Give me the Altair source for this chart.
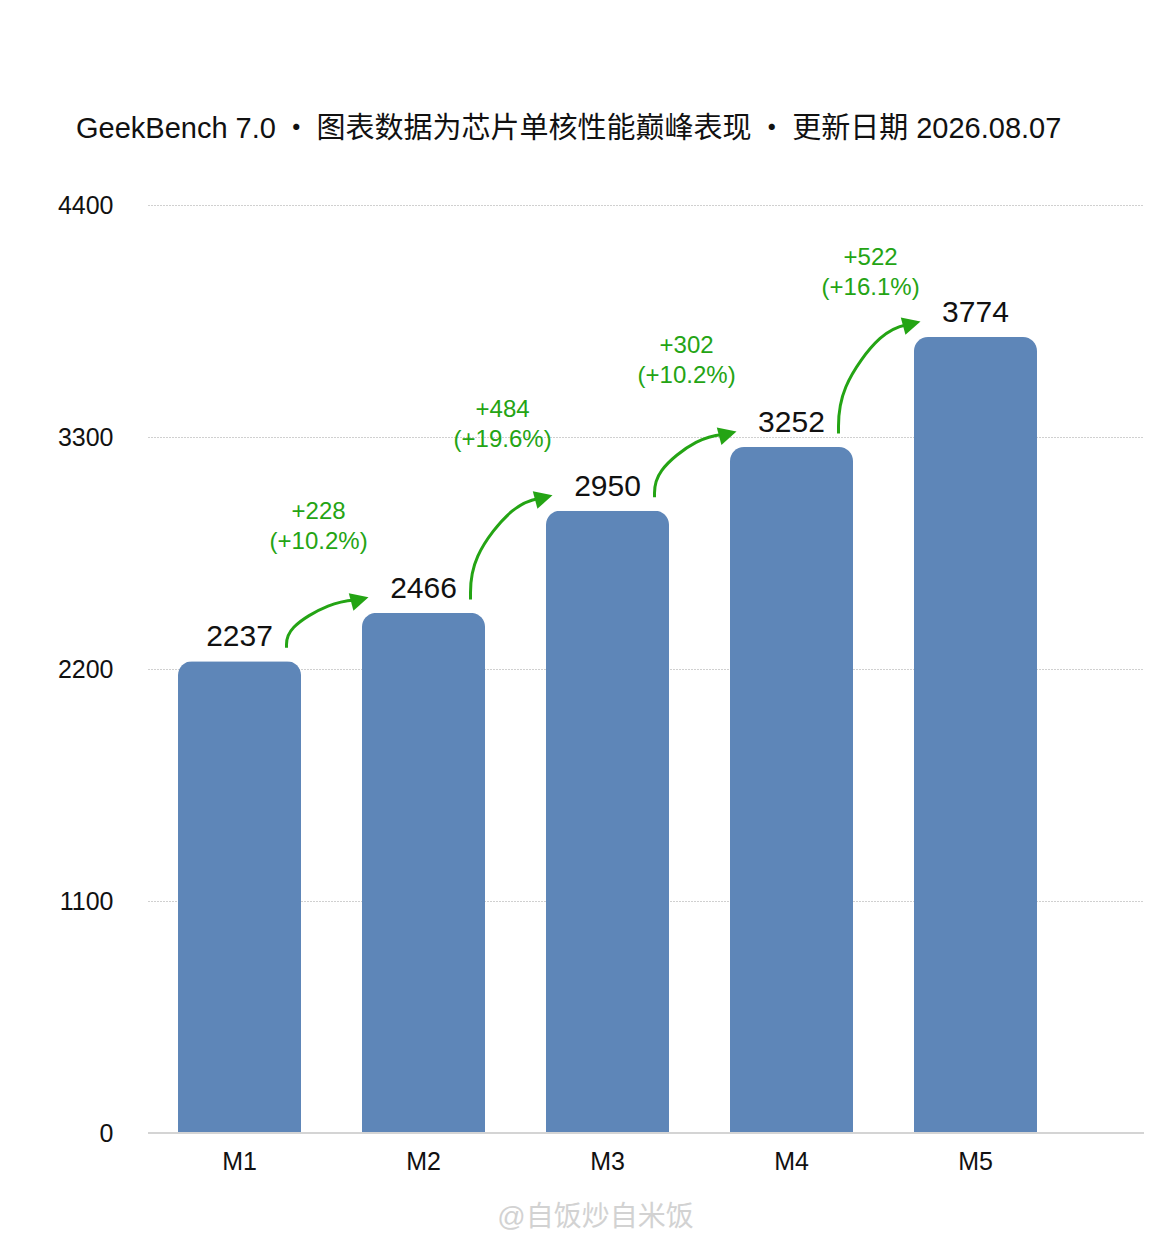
import altair as alt
import pandas as pd

# ---- data ----
chips = ["M1", "M2", "M3", "M4", "M5"]
scores = [2237, 2466, 2950, 3252, 3774]
gains = ["+228", "+484", "+302", "+522"]
gain_pcts = ["(+10.2%)", "(+19.6%)", "(+10.2%)", "(+16.1%)"]
y_ticks = [0, 1100, 2200, 3300, 4400]
title_text = ("GeekBench 7.0\u2009・\u2009图表数据为芯片单核性能巅峰表现"
              "\u2009・\u2009更新日期 2026.08.07")
watermark = "@自饭炒自米饭"

# ---- styling / layout ----
BAR = "#5E86B8"
GREEN = "#24A414"
FONT = "Liberation Sans, Noto Sans CJK SC, sans-serif"
W, H = 996, 928
STEP = 184.0                     # px per category
PX_PER_UNIT = H / 4400.0
X_LO = -91.5 / STEP
X_HI = (W - 91.5) / STEP


def px_x(p):
    return p / STEP


def px_y(p):
    return p / PX_PER_UNIT


bars_df = pd.DataFrame({"chip": chips, "score": scores})

# arrow geometry derived from the scores (category index units on x)
arrow_rows, head_rows, label_rows = [], [], []
for i in range(len(chips) - 1):
    x0, y0 = i + px_x(47), scores[i] + px_y(13.5)
    x3, y3 = i + 1 - px_x(63.7), scores[i + 1] + px_y(13.2)
    dx, dy = x3 - x0, y3 - y0
    ctrl = [(x0, y0), (x0, y0 + 0.4 * dy), (x0 + 0.6 * dx, y3 - 0.05 * dy), (x3, y3)]
    for k, (x, y) in enumerate(ctrl):
        arrow_rows.append({"arrow": i, "k": k, "x": x, "y": y})
    head_rows.append({"x": x3, "y": y3})
    label_rows.append({"x": i + 0.43,
                       "y": min(scores[i + 1] + 480, 4400 - 250),
                       "txt": [gains[i], gain_pcts[i]]})
arrow_df = pd.DataFrame(arrow_rows)
head_df = pd.DataFrame(head_rows)
label_df = pd.DataFrame(label_rows)

y_axis = alt.Axis(values=y_ticks, format="d", title=None, domain=False,
                  ticks=False, labelFontSize=25, labelFont=FONT,
                  labelColor="#111", labelPadding=35, gridColor="#a0a0a0",
                  gridDash=[1, 2], gridWidth=1)
y_scale = alt.Scale(domain=[0, 4400], nice=False)

x_band = alt.X("chip:N", sort=chips,
               scale=alt.Scale(domain=chips, paddingInner=0.3315,
                               paddingOuter=0.3723, align=0.219),
               axis=alt.Axis(title=watermark, labelAngle=0, ticks=False,
                             domain=False, labelFontSize=25, labelFont=FONT,
                             labelColor="#111", labelPadding=16,
                             titleFont=FONT, titleFontSize=28,
                             titleFontWeight="normal", titleColor="#d2d2d2",
                             titlePadding=29, titleX=447, titleAlign="center"))

bars = alt.Chart(bars_df).mark_bar(
    color=BAR, cornerRadiusTopLeft=14, cornerRadiusTopRight=14
).encode(x=x_band, y=alt.Y("score:Q", scale=y_scale, axis=y_axis))

values = alt.Chart(bars_df).mark_text(
    baseline="alphabetic", dy=-15, fontSize=30, font=FONT, color="#111"
).encode(x=x_band, y=alt.Y("score:Q", scale=y_scale, axis=y_axis),
         text="score:Q")

baseline = alt.Chart(bars_df).mark_rule(color="#d4d4d4", strokeWidth=2).encode(
    y=alt.datum(0, scale=y_scale)
)

xq = alt.Scale(domain=[X_LO, X_HI], nice=False, zero=False)

arrows = alt.Chart(arrow_df).mark_line(
    interpolate="basis", color=GREEN, strokeWidth=3
).encode(
    x=alt.X("x:Q", scale=xq, axis=None),
    y=alt.Y("y:Q", scale=y_scale, axis=y_axis),
    detail="arrow:N",
    order="k:Q",
)

heads = alt.Chart(head_df).mark_point(
    shape="M1,0L-1,-1L-1,1Z", filled=True, size=324, angle=345,
    color=GREEN, opacity=1, strokeWidth=0
).encode(
    x=alt.X("x:Q", scale=xq, axis=None),
    y=alt.Y("y:Q", scale=y_scale, axis=y_axis),
)

gain_text = alt.Chart(label_df).mark_text(
    fontSize=24, font=FONT, color=GREEN, baseline="middle", lineHeight=30
).encode(
    x=alt.X("x:Q", scale=xq, axis=None),
    y=alt.Y("y:Q", scale=y_scale, axis=y_axis),
    text="txt",
)

left = alt.layer(bars, values, baseline)
right = alt.layer(arrows, heads, gain_text)

chart = alt.layer(left, right).resolve_scale(x="independent").properties(
    width=W, height=H,
    background="white",
    title=alt.Title(title_text, anchor="start", frame="group", dx=-72,
                    fontSize=29, font=FONT, fontWeight="normal",
                    color="#111", offset=49),
    autosize=alt.AutoSizeParams(type="none"),
    padding={"left": 140, "top": 197, "right": 0, "bottom": 100},
).configure_view(stroke=None)

chart.save("out.html", embed_options={"renderer": "svg", "actions": False})
